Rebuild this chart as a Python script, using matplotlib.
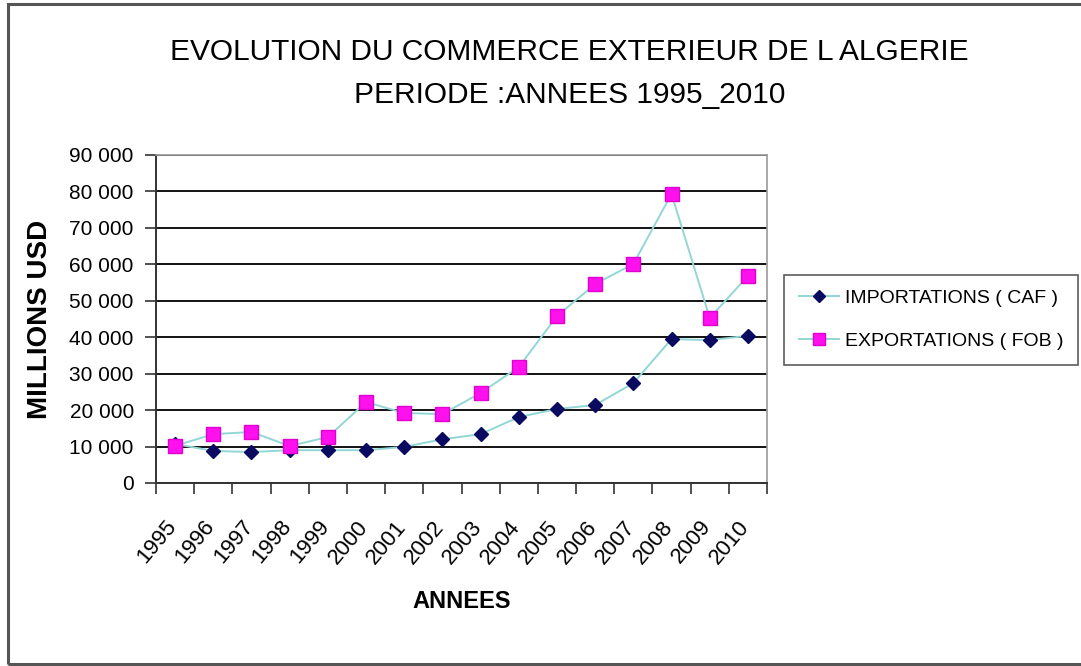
import matplotlib
matplotlib.use("Agg")
import matplotlib.pyplot as plt
from matplotlib.patches import Rectangle
from matplotlib.transforms import ScaledTranslation

years = ["1995", "1996", "1997", "1998", "1999", "2000", "2001", "2002",
         "2003", "2004", "2005", "2006", "2007", "2008", "2009", "2010"]
importations = [10700, 8800, 8500, 9000, 9000, 9000, 9900, 12000,
                13400, 18100, 20300, 21400, 27400, 39500, 39200, 40400]
exportations = [10200, 13400, 14000, 10150, 12600, 22200, 19200, 18900,
                24700, 31800, 45800, 54600, 60100, 79300, 45300, 56800]
yticks = [0, 10000, 20000, 30000, 40000, 50000, 60000, 70000, 80000, 90000]
ytick_labels = ["0", "10 000", "20 000", "30 000", "40 000", "50 000",
                "60 000", "70 000", "80 000", "90 000"]

plt.rcParams["font.family"] = ["Liberation Sans", "DejaVu Sans"]

fig = plt.figure(figsize=(10.81, 6.66), dpi=100)
fig.patch.set_facecolor("white")

# outer border
fig.add_artist(Rectangle((8 / 1081, 2 / 666), 1.2, (662 - 2) / 666, transform=fig.transFigure,
                         fill=False, edgecolor="#555555", linewidth=2.2, zorder=0))

ax = fig.add_axes([156 / 1081, (666 - 483) / 666, (767 - 156) / 1081, (483 - 155) / 666])
x = list(range(len(years)))
line_col = "#93D6D6"
ax.plot(x, importations, color=line_col, linewidth=1.4, marker="D", markersize=7.5,
        markerfacecolor="#0A0A60", markeredgecolor="#0A0A60", zorder=3,
        label="IMPORTATIONS ( CAF )")
ax.plot(x, exportations, color=line_col, linewidth=1.4, marker="s", markersize=10,
        markerfacecolor="#FF11EE", markeredgecolor="#E000D0", zorder=4,
        label="EXPORTATIONS ( FOB )")

ax.set_xlim(-0.5, len(years) - 0.5)
ax.set_ylim(0, 90000)
ax.set_yticks(yticks)
ax.set_yticklabels(ytick_labels, fontsize=15)
ax.yaxis.grid(True, color="black", linewidth=1.3)
ax.set_axisbelow(True)

ax.set_xticks(x)
ax.set_xticklabels(years, fontsize=16, rotation=50, ha="right", va="top")
ax.tick_params(axis="x", which="major", length=0, pad=24)
offset = ScaledTranslation(6 / 100, 0, fig.dpi_scale_trans)
for lbl in ax.get_xticklabels():
    lbl.set_transform(lbl.get_transform() + offset)
ax.set_xticks([i - 0.5 for i in range(len(years) + 1)], minor=True)
ax.tick_params(axis="x", which="minor", length=8, width=1.2, direction="out", color="#333333")
ax.tick_params(axis="y", length=8, width=1.2, direction="out", color="#333333", pad=8)

for s in ["top", "right"]:
    ax.spines[s].set_color("#999999")
    ax.spines[s].set_linewidth(1.2)
for s in ["left", "bottom"]:
    ax.spines[s].set_color("#333333")
    ax.spines[s].set_linewidth(1.4)

ax.set_ylabel("MILLIONS USD", fontsize=20, fontweight="bold", labelpad=12)
ax.set_xlabel("ANNEES", fontsize=17, fontweight="bold", labelpad=16)

fig.text(0.527, 0.922, "EVOLUTION DU COMMERCE EXTERIEUR DE L ALGERIE",
         ha="center", va="center", fontsize=21.5)
fig.text(0.527, 0.858, "PERIODE :ANNEES 1995_2010",
         ha="center", va="center", fontsize=21.5)

leg = fig.legend(loc="upper left", bbox_to_anchor=(784 / 1081, (666 - 275) / 666),
                 borderaxespad=0, fontsize=14, frameon=True, fancybox=False,
                 edgecolor="#333333", handlelength=2.1, handletextpad=0.3,
                 borderpad=0.75, labelspacing=1.3, markerscale=0.8)
leg.get_frame().set_linewidth(1.2)

fig.savefig("out.png", dpi=100, facecolor="white")
